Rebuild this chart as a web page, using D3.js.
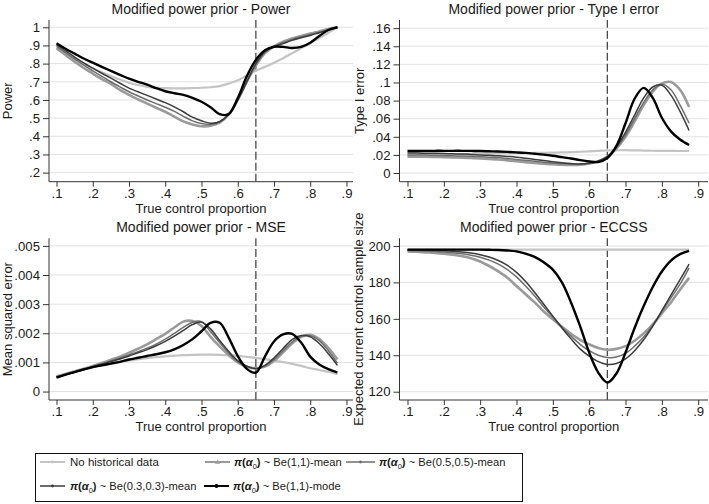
<!DOCTYPE html>
<html><head><meta charset="utf-8">
<script src="https://cdn.jsdelivr.net/npm/d3@7"></script>
<style>
body{margin:0;background:#fff}
text{font-family:"Liberation Sans",Arial,Helvetica,sans-serif;fill:#1a1a1a}
</style>
</head><body>
<svg id="chart" width="709" height="504"></svg>
<script>
// ---------------- DATA ----------------
const trueControl = [0.1,0.125,0.15,0.175,0.2,0.225,0.25,0.275,0.3,0.325,0.35,0.375,0.4,0.425,0.45,0.475,0.5,0.525,0.55,0.575,0.6,0.625,0.65,0.675,0.7,0.725,0.75,0.775,0.8,0.825,0.85,0.875];

const seriesLabels = ["No historical data","Be(1,1)-mean","Be(0.5,0.5)-mean","Be(0.3,0.3)-mean","Be(1,1)-mode"];

// Power
const powerNoHist  = [.885,.855,.828,.80,.775,.752,.732,.712,.695,.682,.672,.667,.665,.664,.664,.665,.667,.670,.676,.690,.708,.735,.762,.782,.805,.83,.857,.885,.912,.94,.97,1.0];
const powerBe11    = [.885,.847,.81,.776,.745,.715,.688,.655,.628,.603,.58,.557,.535,.508,.482,.465,.455,.458,.475,.52,.60,.70,.79,.858,.895,.92,.938,.952,.965,.977,.99,1.0];
const powerBe0505  = [.895,.86,.825,.791,.76,.73,.70,.672,.645,.622,.60,.58,.56,.537,.51,.485,.47,.465,.48,.52,.60,.70,.795,.862,.893,.915,.933,.948,.96,.973,.987,1.0];
const powerBe0303  = [.905,.87,.836,.804,.775,.747,.72,.692,.665,.645,.625,.605,.585,.562,.535,.505,.485,.472,.48,.52,.60,.70,.80,.866,.892,.91,.928,.942,.955,.97,.985,1.0];
const powerMode    = [.912,.882,.855,.828,.805,.782,.76,.738,.717,.70,.684,.665,.648,.637,.628,.612,.59,.56,.522,.522,.61,.73,.82,.873,.893,.892,.886,.892,.915,.952,.985,1.0];

// Type I error
const t1NoHist  = [.020,.020,.0202,.0205,.0207,.021,.021,.0212,.0215,.0215,.0217,.022,.022,.022,.0222,.0223,.0225,.0227,.023,.0235,.024,.0245,.025,.0251,.0252,.025,.0248,.0246,.0245,.0244,.0243,.0243];
const t1Be11    = [.018,.018,.018,.0178,.0175,.0172,.017,.0165,.016,.0155,.015,.014,.013,.012,.011,.0102,.0097,.0092,.009,.0092,.0105,.013,.018,.027,.040,.057,.075,.090,.099,.1005,.092,.073];
const t1Be0505  = [.020,.020,.0198,.0195,.0193,.019,.0187,.0184,.018,.0175,.017,.016,.015,.014,.013,.012,.011,.0104,.0098,.0098,.0108,.013,.018,.028,.042,.060,.078,.092,.098,.092,.075,.055];
const t1Be0303  = [.022,.022,.0218,.0217,.0215,.0212,.021,.0205,.020,.0195,.019,.0183,.0175,.0163,.015,.0138,.0125,.0114,.0105,.010,.0108,.013,.018,.029,.045,.064,.083,.095,.097,.086,.068,.047];
const t1Mode    = [.0243,.0243,.0244,.0245,.0245,.0245,.0245,.0244,.0243,.024,.0237,.0233,.0228,.0222,.0213,.0203,.019,.0175,.016,.0142,.0128,.0122,.0165,.030,.055,.082,.094,.083,.061,.046,.037,.031];

// MSE
const mseNoHist = [.00052,.0006,.00068,.00076,.00084,.0009,.00096,.00102,.00107,.00111,.00115,.00118,.00121,.00123,.00125,.00126,.001265,.001265,.00126,.001245,.001225,.00119,.001155,.00111,.00106,.00101,.00095,.00088,.0008,.00074,.00068,.0006];
const mseBe11   = [.00052,.0006,.00069,.00078,.00088,.00098,.00109,.0012,.00133,.00147,.00162,.0018,.00198,.0022,.0024,.00242,.00225,.00188,.00155,.00125,.001,.00085,.0008,.00086,.00105,.00135,.00165,.00188,.00195,.0018,.0015,.0011];
const mseBe0505 = [.0005,.00058,.00067,.00076,.00086,.00095,.00105,.00115,.00126,.00137,.00149,.00163,.0018,.002,.0022,.00238,.0024,.00205,.00168,.00132,.00103,.00086,.00079,.00088,.0011,.0014,.0017,.0019,.00192,.00175,.0014,.00097];
const mseBe0303 = [.0005,.00058,.00066,.00075,.00085,.00094,.00103,.00112,.00122,.00133,.00144,.00157,.00172,.0019,.0021,.0023,.00238,.00215,.00175,.00138,.00106,.00087,.00078,.0009,.00115,.00148,.00178,.00192,.00188,.00165,.0013,.0009];
const mseMode   = [.00048,.00058,.00067,.00076,.00084,.0009,.00096,.00102,.0011,.00116,.00122,.00128,.00135,.00145,.0016,.0018,.00207,.00236,.00236,.00185,.00122,.00078,.00065,.0012,.00172,.00196,.00198,.00168,.0012,.00093,.00077,.00066];

// ECCSS
const essNoHist = [198,198,198,198,198,198,198,198,198,198,198,198,198,198,198,198,198,198,198,198,198,198,198,198,198,198,198,198,198,198,198,198];
const essBe11   = [197,196.8,196.5,196.2,195.8,195.2,194.4,193.3,191.5,189,186,182.5,178,173.5,169,164,159.8,155.6,151.8,148.5,146,144,143,143.5,145,148,152,157,163,169,176,182.5];
const essBe0505 = [197.5,197.4,197.2,197,196.7,196.3,195.7,194.9,193.8,192.2,190,187,183,178,172.5,166.5,161,155.5,150.5,146,142.5,140,138.8,139,141,145,150,156.5,164,171.5,179,188];
const essBe0303 = [197.8,197.8,197.7,197.6,197.4,197.1,196.7,196.1,195.2,193.9,192,189.3,185.5,180.5,174.5,168,161.5,155,149,143.5,139.5,136.5,135,135.5,138,142.5,148.5,156,164.5,173,181.5,190];
const essMode   = [198,198,198,198,198,198,198,198,198,197.9,197.8,197.5,197,195.8,194,191,187,180,169,156,141.5,130.5,125,130,141.5,155,167,177.5,186,192,195.5,197.3];

const xTicks = [0.1,0.2,0.3,0.4,0.5,0.6,0.7,0.8,0.9];
const powerTicks = [0.2,0.3,0.4,0.5,0.6,0.7,0.8,0.9,1];
const t1Ticks = [0,0.02,0.04,0.06,0.08,0.1,0.12,0.14,0.16];
const mseTicks = [0,0.001,0.002,0.003,0.004,0.005];
const essTicks = [120,140,160,180,200];
const referenceX = 0.65;

// ---------------- STYLE ----------------
const styles = [
  {color:"#c4c4c4", width:2.2},
  {color:"#9a9a9a", width:2.6},
  {color:"#6e6e6e", width:1.5},
  {color:"#3c3c3c", width:1.5},
  {color:"#000000", width:2.4}
];

const svg = d3.select("#chart");

function fmt(v){
  if (v === 0) return "0";
  if (v === 1) return "1";
  if (v >= 10) return String(v);
  return String(+v.toPrecision(6)).replace(/^0\./,".");
}

const panels = [
  {title:"Modified power prior - Power", ytitle:"Power", xr:[49,353], yr:[181.7,20], xd:[0.0793,0.918], yd:[0.15,1.04], ticks:powerTicks, data:[powerNoHist,powerBe11,powerBe0505,powerBe0303,powerMode], yt:12},
  {title:"Modified power prior - Type I error", ytitle:"Type I error", xr:[399.5,708], yr:[181.7,20], xd:[0.078,0.927], yd:[-0.0096,0.169], ticks:t1Ticks, data:[t1NoHist,t1Be11,t1Be0505,t1Be0303,t1Mode], yt:363.5},
  {title:"Modified power prior - MSE", ytitle:"Mean squared error", xr:[49,353], yr:[400,238.3], xd:[0.0793,0.918], yd:[-0.00029,0.00526], ticks:mseTicks, data:[mseNoHist,mseBe11,mseBe0505,mseBe0303,mseMode], yt:12},
  {title:"Modified power prior - ECCSS", ytitle:"Expected current control sample size", xr:[399.5,708], yr:[400,238.3], xd:[0.078,0.927], yd:[115.45,204.2], ticks:essTicks, data:[essNoHist,essBe11,essBe0505,essBe0303,essMode], yt:362.5}
];

panels.forEach(p => {
  const x = d3.scaleLinear().domain(p.xd).range(p.xr);
  const y = d3.scaleLinear().domain(p.yd).range(p.yr);
  const g = svg.append("g");
  // grid
  g.selectAll("line.grid").data(p.ticks).join("line")
    .attr("x1", p.xr[0]).attr("x2", p.xr[1])
    .attr("y1", d => y(d)).attr("y2", d => y(d))
    .attr("stroke", "#e2e2e2").attr("stroke-width", 1);
  // axes
  const yAxis = d3.axisLeft(y).tickValues(p.ticks).tickSize(6).tickPadding(3).tickFormat(fmt);
  const xAxis = d3.axisBottom(x).tickValues(xTicks).tickSize(5).tickPadding(2).tickFormat(fmt);
  const ya = g.append("g").attr("transform", `translate(${p.xr[0]},0)`).call(yAxis);
  const xa = g.append("g").attr("transform", `translate(0,${p.yr[0]})`).call(xAxis);
  [ya, xa].forEach(a => {
    a.select(".domain").attr("stroke", "#333").attr("stroke-width", 1);
    a.selectAll(".tick line").attr("stroke", "#333");
    a.selectAll(".tick text").attr("font-size", 13.2).attr("fill", "#1a1a1a")
      .attr("font-family", '"Liberation Sans",Arial,sans-serif');
  });
  ya.select(".domain").attr("d", `M0,${p.yr[0]}V${p.yr[1]}`);
  xa.select(".domain").attr("d", `M${p.xr[0]},0H${p.xr[1]}`);
  // dashed reference line
  g.append("line")
    .attr("x1", x(referenceX)).attr("x2", x(referenceX))
    .attr("y1", p.yr[0]).attr("y2", p.yr[1])
    .attr("stroke", "#4a4a4a").attr("stroke-width", 1.3).attr("stroke-dasharray", "8,3");
  // lines
  const line = d3.line().x((d,i) => x(trueControl[i])).y(d => y(d)).curve(d3.curveCatmullRom.alpha(0.5));
  p.data.forEach((arr, si) => {
    g.append("path").datum(arr).attr("d", line)
      .attr("fill", "none").attr("stroke", styles[si].color)
      .attr("stroke-width", styles[si].width).attr("stroke-linejoin", "round");
  });
  // titles
  g.append("text").attr("x", (p.xr[0]+p.xr[1])/2).attr("y", p.yr[1]-6.3)
    .attr("text-anchor", "middle").attr("font-size", 14).text(p.title);
  g.append("text").attr("x", (p.xr[0]+p.xr[1])/2).attr("y", p.yr[0]+31.3)
    .attr("text-anchor", "middle").attr("font-size", 13).text("True control proportion");
  g.append("text").attr("transform", `translate(${p.yt},${(p.yr[0]+p.yr[1])/2}) rotate(-90)`)
    .attr("text-anchor", "middle").attr("font-size", 13).text(p.ytitle);
});

// ---------------- LEGEND ----------------
const lg = svg.append("g");
lg.append("rect").attr("x", 35.5).attr("y", 453.5).attr("width", 487).attr("height", 48)
  .attr("fill", "#fff").attr("stroke", "#111").attr("stroke-width", 1);

const legendPos = [
  {lx:40, tx:70, y:462},
  {lx:205, tx:234, y:462},
  {lx:346, tx:379, y:462},
  {lx:40, tx:70, y:486},
  {lx:204, tx:233, y:486}
];
legendPos.forEach((lp, i) => {
  const st = styles[i];
  const lineW = (i === 2) ? 29 : 25;
  lg.append("line").attr("x1", lp.lx).attr("x2", lp.lx + lineW).attr("y1", lp.y).attr("y2", lp.y)
    .attr("stroke", st.color).attr("stroke-width", Math.min(st.width, 2));
  const mx = lp.lx + lineW/2;
  if (i === 1) {
    lg.append("path").attr("d", `M${mx},${lp.y-2.5}L${mx+2.5},${lp.y+1.8}L${mx-2.5},${lp.y+1.8}Z`).attr("fill", st.color);
  } else {
    lg.append("circle").attr("cx", mx).attr("cy", lp.y).attr("r", i === 4 ? 2 : 1.4).attr("fill", st.color);
  }
  const t = lg.append("text").attr("x", lp.tx).attr("y", lp.y + 4).attr("font-size", 11.2);
  if (i === 0) {
    t.attr("font-size", 11.5).text(seriesLabels[0]);
  } else {
    t.append("tspan").attr("font-weight", "bold").attr("font-style", "italic").text("π");
    t.append("tspan").attr("font-weight", "bold").text("(");
    t.append("tspan").attr("font-weight", "bold").attr("font-style", "italic").text("α");
    t.append("tspan").attr("font-size", 7.5).attr("dy", 3).text("0");
    t.append("tspan").attr("font-weight", "bold").attr("dy", -3).text(")");
    t.append("tspan").text(" ~ " + seriesLabels[i]);
  }
});
</script>
</body></html>
